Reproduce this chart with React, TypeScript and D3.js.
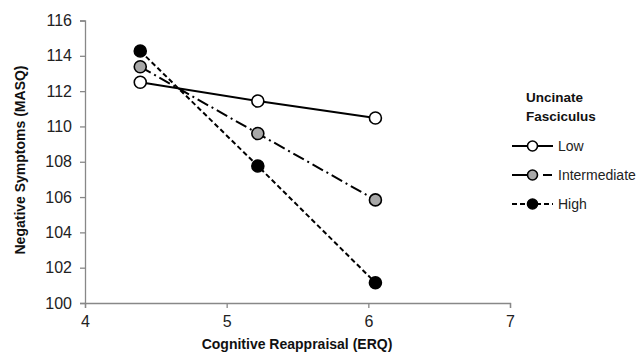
import React, { useEffect, useRef } from 'react';
import * as d3 from 'd3';

// moderation plot: reappraisal (-1SD, mean, +1SD) x uncinate group
const xValues = [4.39, 5.22, 6.05];
const groups = ['Low', 'Intermediate', 'High'];
const lowValues = [112.5, 111.44, 110.48];
const intermediateValues = [113.38, 109.6, 105.84];
const highValues = [114.27, 107.76, 101.15];
const xTicks = [4, 5, 6, 7];
const yTicks = [100, 102, 104, 106, 108, 110, 112, 114, 116];

const seriesStyle: Record<string, { fill: string; dash: string | null }> = {
  Low: { fill: '#fff', dash: null },
  Intermediate: { fill: '#a8a8a8', dash: '12,4,2,4' },
  High: { fill: '#000', dash: '5,3' }
};

const App = () => {
  const svgRef = useRef<SVGSVGElement | null>(null);

  useEffect(() => {
    const width = 638;
    const height = 353;
    const font = '"Liberation Sans", Arial, sans-serif';

    const svg = d3.select(svgRef.current)
      .attr('width', width)
      .attr('height', height);
    svg.selectAll('*').remove();

    svg.append('rect').attr('width', width).attr('height', height).attr('fill', '#fff');

    const x = d3.scaleLinear().domain([4, 7]).range([85, 510]);
    const y = d3.scaleLinear().domain([100, 116]).range([303, 20.5]);

    // axes
    const xAxis = svg.append('g')
      .attr('transform', `translate(0,${y(100)})`)
      .call(d3.axisBottom(x).tickValues(xTicks).tickSize(5).tickPadding(8).tickFormat(d3.format('d')));
    const yAxis = svg.append('g')
      .attr('transform', `translate(${x(4)},0)`)
      .call(d3.axisLeft(y).tickValues(yTicks).tickSize(5).tickPadding(8).tickFormat(d3.format('d')));

    [xAxis, yAxis].forEach(ax => {
      ax.select('.domain').attr('stroke', '#888').attr('stroke-width', 1.3);
      ax.selectAll('.tick line').attr('stroke', '#888').attr('stroke-width', 1.3);
      ax.selectAll('text')
        .attr('fill', '#222')
        .style('font-family', font)
        .style('font-size', '16px');
    });

    // axis titles
    svg.append('text')
      .attr('x', 297)
      .attr('y', 349)
      .attr('text-anchor', 'middle')
      .style('font-family', font)
      .style('font-size', '14px')
      .style('font-weight', 'bold')
      .attr('fill', '#111')
      .text('Cognitive Reappraisal (ERQ)');

    svg.append('text')
      .attr('transform', 'translate(25,160) rotate(-90)')
      .attr('text-anchor', 'middle')
      .style('font-family', font)
      .style('font-size', '14px')
      .style('font-weight', 'bold')
      .attr('fill', '#111')
      .text('Negative Symptoms (MASQ)');

    const data: Record<string, number[]> = {
      Low: lowValues,
      Intermediate: intermediateValues,
      High: highValues
    };

    const line = d3.line<[number, number]>()
      .x(d => x(d[0]))
      .y(d => y(d[1]));

    // draw High first so Low sits on top
    [...groups].reverse().forEach(name => {
      const pts: [number, number][] = xValues.map((v, i) => [v, data[name][i]]);
      const st = seriesStyle[name];
      svg.append('path')
        .datum(pts)
        .attr('d', line)
        .attr('fill', 'none')
        .attr('stroke', '#000')
        .attr('stroke-width', 2)
        .attr('stroke-dasharray', st.dash);
    });

    groups.forEach(name => {
      const st = seriesStyle[name];
      svg.append('g')
        .selectAll('circle')
        .data(xValues.map((v, i) => [v, data[name][i]]))
        .join('circle')
        .attr('cx', d => x(d[0]))
        .attr('cy', d => y(d[1]))
        .attr('r', 6)
        .attr('fill', st.fill)
        .attr('stroke', '#000')
        .attr('stroke-width', 1.6);
    });

    // legend
    const legend = svg.append('g');
    ['Uncinate', 'Fasciculus'].forEach((t, i) => {
      legend.append('text')
        .attr('x', 526)
        .attr('y', 102 + i * 19)
        .style('font-family', font)
        .style('font-size', '13.5px')
        .style('font-weight', 'bold')
        .attr('fill', '#111')
        .text(t);
    });

    const rowY = d3.scalePoint<string>().domain(groups).range([146, 204]);
    groups.forEach(name => {
      const st = seriesStyle[name];
      const cy = rowY(name) as number;
      legend.append('line')
        .attr('x1', 512).attr('x2', 553)
        .attr('y1', cy).attr('y2', cy)
        .attr('stroke', '#000')
        .attr('stroke-width', 2)
        .attr('stroke-dasharray', name === 'Intermediate' ? '15,16,9,20' : st.dash);
      legend.append('circle')
        .attr('cx', 532.5)
        .attr('cy', cy)
        .attr('r', 5)
        .attr('fill', st.fill)
        .attr('stroke', '#000')
        .attr('stroke-width', 1.6);
      legend.append('text')
        .attr('x', 558)
        .attr('y', cy)
        .attr('dy', '0.36em')
        .style('font-family', font)
        .style('font-size', '14px')
        .attr('fill', '#222')
        .text(name);
    });
  }, []);

  return (
    <div style={{ position: 'absolute', left: 0, top: 0 }}>
      <svg ref={svgRef}></svg>
    </div>
  );
};

export default App;
